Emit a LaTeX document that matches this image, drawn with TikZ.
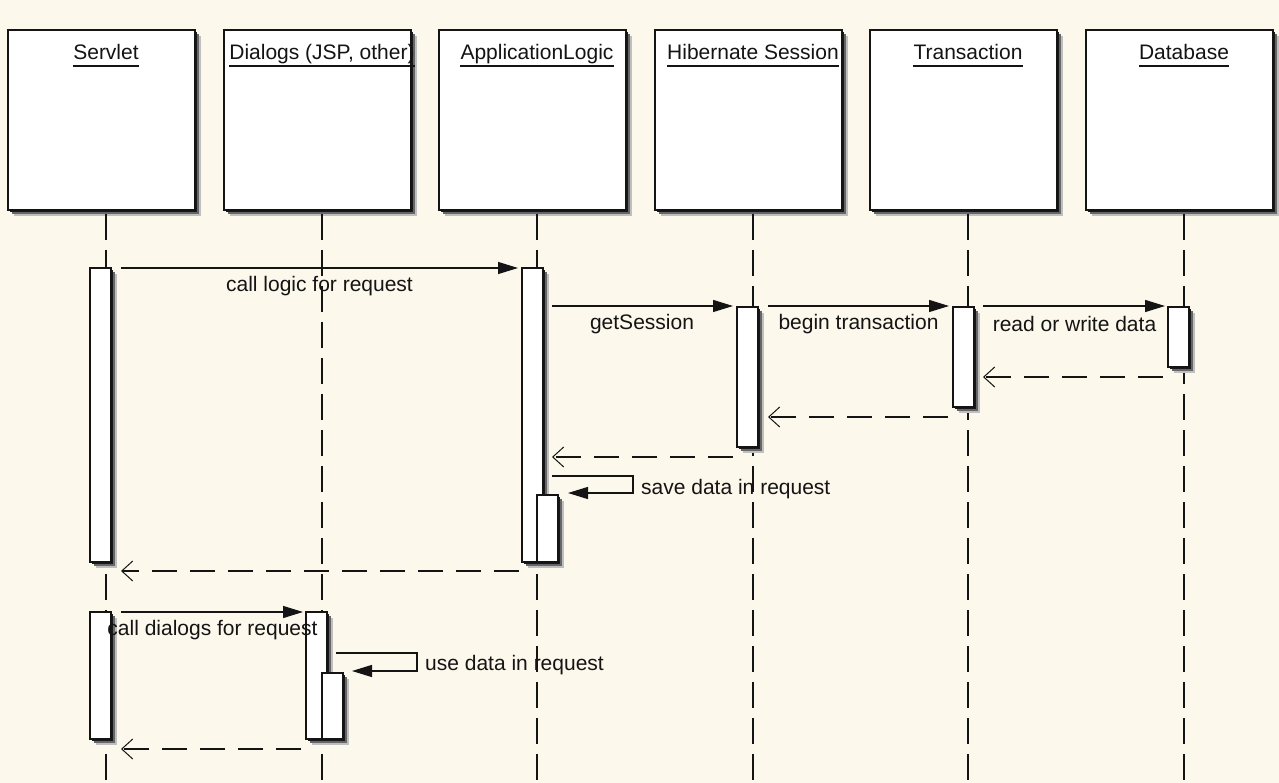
\documentclass[tikz,border=0pt]{standalone}
\usepackage{fontspec}
\setmainfont{Liberation Sans}
\usetikzlibrary{arrows.meta,shadows}
\definecolor{bg}{HTML}{FDF8EC}
\definecolor{ink}{HTML}{141414}
\begin{document}
\begin{tikzpicture}[x=1pt,y=-1pt,
  shadowed/.style={general shadow={fill=black!25,shadow xshift=6pt,shadow yshift=-6pt},
                   general shadow={fill=black!60,shadow xshift=4pt,shadow yshift=-4pt},
                   general shadow={fill=black!90,shadow xshift=2pt,shadow yshift=-2pt}},
  hdr/.style={draw=ink,line width=1.5pt,fill=white,shadowed,minimum width=187pt,minimum height=180pt,inner sep=0pt,outer sep=0pt},
  act/.style={draw=ink,line width=1.5pt,fill=white,shadowed,minimum width=21pt,inner sep=0pt,outer sep=0pt,anchor=north west},
  ttl/.style={font=\fontsize{21}{25}\selectfont,text=ink,inner sep=0pt,anchor=base},
  lbl/.style={font=\fontsize{21}{25}\selectfont,text=ink,inner sep=0pt},
  life/.style={draw=ink,line width=1.5pt,dash pattern=on 26pt off 10pt},
  call/.style={draw=ink,line width=1.4pt,-{Triangle[length=20pt,width=12pt]}},
  ret/.style={draw=ink,line width=1.5pt,dash pattern=on 25pt off 13pt,-{Straight Barb[length=11pt,width=20pt,line width=1pt]}}
]
\fill[bg] (0,0) rectangle (1279,783);
\useasboundingbox (0,0) rectangle (1279,783);

% headers, titles, lifelines
\foreach \n/\x/\t in {servlet/106/Servlet, dialogs/322/{Dialogs (JSP, other)}, logic/537/ApplicationLogic, session/753/Hibernate Session, trans/968/Transaction, db/1184/Database}{
  \node[hdr] (\n) at (\x-4.5,120) {};
  \node[ttl] (\n-t) at (\x,60) {\t};
  \draw[ink,line width=1.5pt] (\n-t.west |- 0,66) -- (\n-t.east |- 0,66);
  \draw[life] (\x,214) -- (\x,783);
}

% activations
\node[act,minimum height=294pt] (sA1) at (90,268) {};
\node[act,minimum height=294pt] (lA1) at (522,268) {};
\node[act,minimum height=67pt]  (lA2) at (537,495) {};
\node[act,minimum height=140pt] (hA1) at (737,307) {};
\node[act,minimum height=100pt] (tA1) at (953,307) {};
\node[act,minimum height=60pt]  (dA1) at (1168,307) {};
\node[act,minimum height=127pt] (sA2) at (90,612) {};
\node[act,minimum height=127pt] (gA1) at (306,612) {};
\node[act,minimum height=66pt]  (gA2) at (322,673) {};

% messages
\coordinate (m1a) at (121,268);  \coordinate (m1b) at (518,268);
\draw[call] (m1a) -- (m1b);
\node[lbl] (l1) at (319.5,286) {call logic for request};

\coordinate (m2a) at (552,306);  \coordinate (m2b) at (733,306);
\draw[call] (m2a) -- (m2b);
\node[lbl] (l2) at (642,324) {getSession};

\coordinate (m3a) at (768,306);  \coordinate (m3b) at (949,306);
\draw[call] (m3a) -- (m3b);
\node[lbl] (l3) at (858.5,324) {begin transaction};

\coordinate (m4a) at (983,306);  \coordinate (m4b) at (1165,306);
\draw[call] (m4a) -- (m4b);
\node[lbl] (l4) at (1074.5,324) {read or write data};

\coordinate (r1a) at (1163,377); \coordinate (r1b) at (983,377);
\draw[ret] (r1a) -- (r1b);
\coordinate (r2a) at (948,417);  \coordinate (r2b) at (768,417);
\draw[ret] (r2a) -- (r2b);
\coordinate (r3a) at (733,457);  \coordinate (r3b) at (552,457);
\draw[ret] (r3a) -- (r3b);

\coordinate (s1a) at (552,476); \coordinate (s1b) at (633,476);
\coordinate (s1c) at (633,493); \coordinate (s1d) at (568,493);
\draw[call] (s1a) -- (s1b) -- (s1c) -- (s1d);
\node[lbl,anchor=west] (l5) at (641,489) {save data in request};

\coordinate (r4a) at (519,571); \coordinate (r4b) at (121,571);
\draw[ret] (r4a) -- (r4b);

\coordinate (m5a) at (121,612); \coordinate (m5b) at (303,612);
\draw[call] (m5a) -- (m5b);
\node[lbl] (l6) at (212.5,630) {call dialogs for request};

\coordinate (s2a) at (336,653); \coordinate (s2b) at (417,653);
\coordinate (s2c) at (417,671); \coordinate (s2d) at (352,671);
\draw[call] (s2a) -- (s2b) -- (s2c) -- (s2d);
\node[lbl,anchor=west] (l7) at (425,665) {use data in request};

\coordinate (r5a) at (301,749); \coordinate (r5b) at (121,749);
\draw[ret] (r5a) -- (r5b);
\end{tikzpicture}
\end{document}
